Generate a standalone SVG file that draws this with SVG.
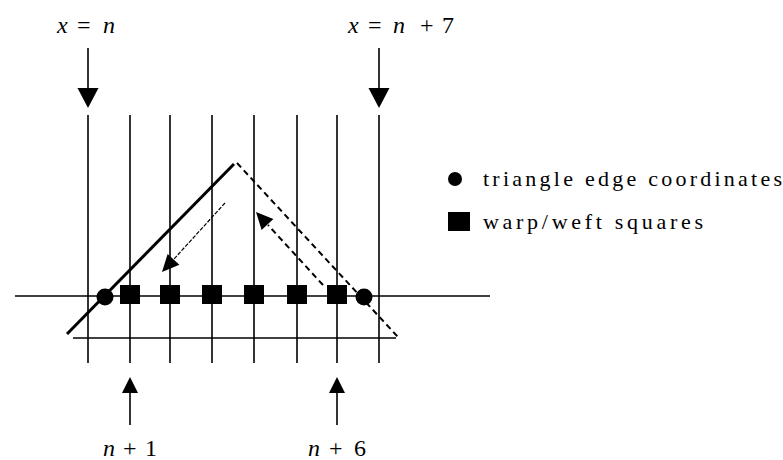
<svg xmlns="http://www.w3.org/2000/svg" width="783" height="460" viewBox="0 0 783 460">
<style>
.g{stroke:#000;stroke-width:1.6;fill:none}
.i{font-style:italic}
.ah{fill:#000;stroke:none}
.ln{stroke:#000;stroke-width:1.6;fill:none}
</style>
<rect width="783" height="460" fill="#fff"/>
<g id="grid">
<line class="g" x1="88" y1="115" x2="88" y2="363"/>
<line class="g" x1="130" y1="115" x2="130" y2="363"/>
<line class="g" x1="170" y1="115" x2="170" y2="363"/>
<line class="g" x1="212" y1="115" x2="212" y2="363"/>
<line class="g" x1="254" y1="115" x2="254" y2="363"/>
<line class="g" x1="297" y1="115" x2="297" y2="363"/>
<line class="g" x1="337" y1="115" x2="337" y2="363"/>
<line class="g" x1="379" y1="115" x2="379" y2="363"/>
<line class="g" x1="15" y1="296" x2="490" y2="296"/>
<line class="g" x1="73" y1="338" x2="396" y2="338"/>
</g>
<g id="triangle">
<line x1="67" y1="334" x2="234" y2="164" stroke="#000" stroke-width="3"/>
<line x1="237" y1="163" x2="398" y2="337" stroke="#000" stroke-width="2" stroke-dasharray="6 4"/>
</g>
<g id="points">
<circle cx="105" cy="297" r="8.5" fill="#000"/>
<circle cx="364" cy="297" r="8.5" fill="#000"/>
<rect x="120" y="285" width="20" height="19" fill="#000"/>
<rect x="160" y="285" width="20" height="19" fill="#000"/>
<rect x="202" y="285" width="20" height="19" fill="#000"/>
<rect x="244" y="285" width="20" height="19" fill="#000"/>
<rect x="287" y="285" width="20" height="19" fill="#000"/>
<rect x="327" y="285" width="20" height="19" fill="#000"/>
</g>
<g id="connectors">
<line class="ln" x1="88" y1="48" x2="88" y2="90"/>
<polygon class="ah" points="77.5,88 98.5,88 88,108"/>
<line class="ln" x1="379" y1="48" x2="379" y2="90"/>
<polygon class="ah" points="368.5,88 389.5,88 379,108"/>
<line class="ln" x1="130" y1="391" x2="130" y2="425"/>
<polygon class="ah" points="130,377 122,393 138,393"/>
<line class="ln" x1="337" y1="391" x2="337" y2="425"/>
<polygon class="ah" points="337,377 329,393 345,393"/>
<line x1="225" y1="203" x2="174" y2="259" stroke="#000" stroke-width="1.2" stroke-dasharray="4 1.5"/>
<polygon class="ah" points="162,272 179.4,264.8 167.6,254"/>
<line x1="323" y1="285" x2="268" y2="225" stroke="#000" stroke-width="2" stroke-dasharray="6 4"/>
<polygon class="ah" points="256,212 273.4,219.1 261.6,229.9"/>
</g>
<g id="labels" font-family="Liberation Serif, serif" font-size="24" fill="#000">
<text x="57" y="33"><tspan class="i">x</tspan><tspan x="77">=</tspan><tspan class="i" x="103">n</tspan></text>
<text x="348" y="33"><tspan class="i">x</tspan><tspan x="368">=</tspan><tspan class="i" x="393">n</tspan><tspan x="420">+</tspan><tspan x="442">7</tspan></text>
<text x="103" y="456"><tspan class="i">n</tspan><tspan x="123">+</tspan><tspan x="145">1</tspan></text>
<text x="308" y="456"><tspan class="i">n</tspan><tspan x="329">+</tspan><tspan x="354">6</tspan></text>
</g>
<g id="legend" font-family="Liberation Serif, serif" font-size="22" fill="#000">
<circle cx="455" cy="179" r="7"/>
<text x="483" y="186" textLength="299" lengthAdjust="spacing">triangle edge coordinates</text>
<rect x="448" y="212" width="22" height="19"/>
<text x="483" y="229" textLength="220" lengthAdjust="spacing">warp/weft squares</text>
</g>
</svg>
